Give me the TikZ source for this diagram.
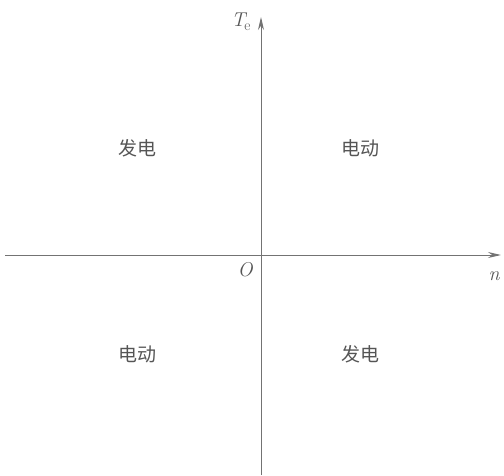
\documentclass[tikz,border=0pt]{standalone}
\usepackage{fontspec}
\newfontfamily\cjk{Noto Sans CJK SC}
\usetikzlibrary{arrows.meta}
\definecolor{axisgray}{HTML}{737373}
\definecolor{textgray}{HTML}{555555}
\begin{document}
\begin{tikzpicture}[x=1pt,y=-1pt,
  axis/.style={draw=axisgray,line width=1pt,-{Stealth[length=13pt,width=6pt]}},
  quad/.style={text=textgray,font=\cjk\fontsize{19}{19}\selectfont},
  lab/.style={text=textgray,font=\fontsize{20}{20}\selectfont\itshape}]
\useasboundingbox (0,0) rectangle (504,475);
\coordinate (xs) at (5,255);
\coordinate (xe) at (501,255);
\coordinate (ys) at (261,475);
\coordinate (ye) at (261,17);
\draw[axis] (xs) -- (xe);
\draw[axis] (ys) -- (ye);
\node[lab] (te) at (241,22) {T\kern-1pt\raisebox{-4pt}{\upshape\fontsize{15}{15}\selectfont e}};
\node[lab] (n) at (494,276) {n};
\node[lab] (o) at (245,270) {O};
\node[quad] (q2) at (137,148) {发电};
\node[quad] (q1) at (360,148) {电动};
\node[quad] (q3) at (137,354) {电动};
\node[quad] (q4) at (360,354) {发电};
\end{tikzpicture}
\end{document}
